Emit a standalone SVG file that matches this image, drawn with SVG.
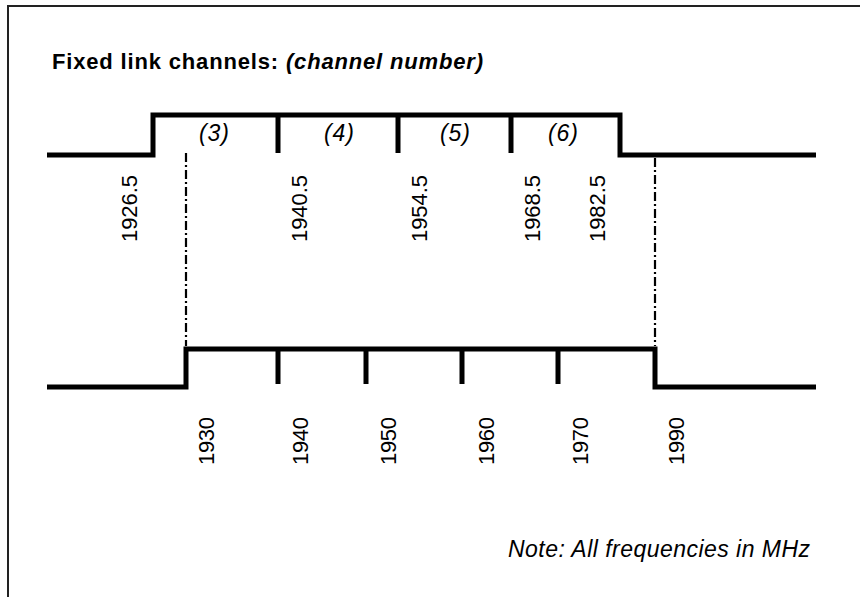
<svg xmlns="http://www.w3.org/2000/svg" width="860" height="597" viewBox="0 0 860 597">
<style>
.trace{fill:none;stroke:#000;stroke-width:5;stroke-linejoin:miter;stroke-linecap:butt}
.guide{fill:none;stroke:#000;stroke-width:2.2;stroke-dasharray:9 3 2 3}
.frame{fill:none;stroke:#222;stroke-width:2}
.t{font-family:"Liberation Sans",Arial,sans-serif;fill:#000}
.ch{font-size:23px;font-style:italic}
.f{font-size:22px}
</style>
<rect width="860" height="597" fill="#fff"/>
<path class="frame" d="M8,597 V6 H860"/>
<g id="title">
<text class="t" x="52" y="69" font-size="22" font-weight="bold" textLength="431">Fixed link channels: <tspan font-style="italic">(channel number)</tspan></text>
</g>
<g id="connectors">
<path class="trace" d="M47,155 H153 V115 H620 V155 H816"/>
<path class="trace" d="M278,115 V153 M398,115 V153 M511,115 V153"/>
<path class="trace" d="M47,387 H186 V349 H655 V387 H816"/>
<path class="trace" d="M278,349 V384 M366,349 V384 M462,349 V384 M558,349 V384"/>
<path class="guide" d="M186,153 V346 M655,158 V346"/>
</g>
<g id="channels">
<text class="t ch" x="214" y="141" text-anchor="middle" textLength="30">(3)</text>
<text class="t ch" x="339" y="141" text-anchor="middle" textLength="30">(4)</text>
<text class="t ch" x="455" y="141" text-anchor="middle" textLength="30">(5)</text>
<text class="t ch" x="563" y="141" text-anchor="middle" textLength="30">(6)</text>
</g>
<g id="upper-freqs">
<text class="t f" transform="translate(137,242) rotate(-90)" textLength="67">1926.5</text>
<text class="t f" transform="translate(307,242) rotate(-90)" textLength="67">1940.5</text>
<text class="t f" transform="translate(427,242) rotate(-90)" textLength="67">1954.5</text>
<text class="t f" transform="translate(540,242) rotate(-90)" textLength="67">1968.5</text>
<text class="t f" transform="translate(605,242) rotate(-90)" textLength="67">1982.5</text>
</g>
<g id="lower-freqs">
<text class="t f" transform="translate(214,465) rotate(-90)" textLength="48">1930</text>
<text class="t f" transform="translate(308,465) rotate(-90)" textLength="48">1940</text>
<text class="t f" transform="translate(396,465) rotate(-90)" textLength="48">1950</text>
<text class="t f" transform="translate(494,465) rotate(-90)" textLength="48">1960</text>
<text class="t f" transform="translate(588,465) rotate(-90)" textLength="48">1970</text>
<text class="t f" transform="translate(684,465) rotate(-90)" textLength="48">1990</text>
</g>
<g id="note">
<text class="t" x="508" y="557" font-size="23" font-style="italic" textLength="302">Note: All frequencies in MHz</text>
</g>
</svg>
